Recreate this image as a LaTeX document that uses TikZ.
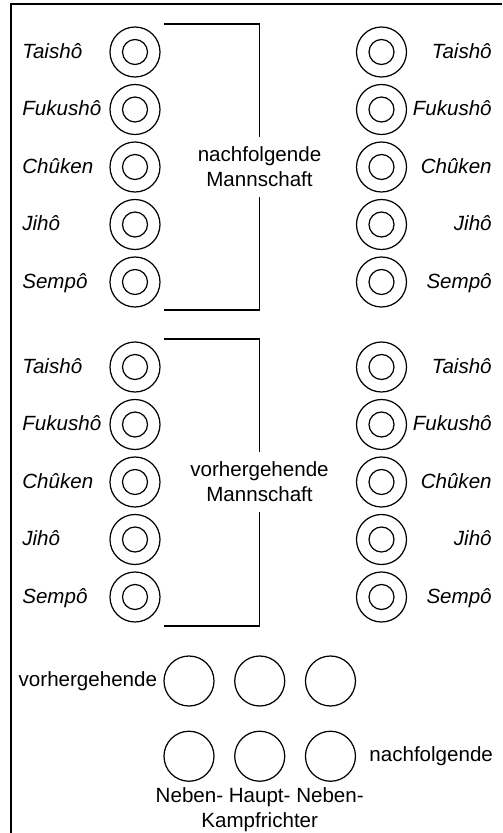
\documentclass[tikz,border=0pt]{standalone}
\usepackage{fontspec}
\setmainfont{Liberation Sans}
\usetikzlibrary{positioning}

\begin{document}
\begin{tikzpicture}[
    font=\fontsize{11.7}{14.2}\selectfont,
    kaempfer/.style={circle, draw, line width=0.7pt, minimum size=1cm, inner sep=0pt,
        path picture={\draw[line width=0.7pt] (path picture bounding box.center) circle (0.25cm);}},
    richter/.style={circle, draw, line width=0.7pt, minimum size=1cm, inner sep=0pt},
    rolle/.style={font=\fontsize{11.7}{14.2}\selectfont\itshape, text height=0.72em, text depth=0pt, inner sep=0pt},
    mannschaft/.style={align=center, inner xsep=2pt, inner ysep=0.2cm},
    klammer/.style={line width=1.1pt}
]
    \useasboundingbox (0,0) rectangle (10.04,-16.66);
    \draw[klammer] (10.04,-0.08) -- (0.22,-0.08) -- (0.22,-16.66); % Rahmen

    % Kaempfer beider Mannschaften
    \foreach \grp/\dy in {n/0,v/6.3}{
        \foreach \rang [count=\i] in {Taishô,Fukushô,Chûken,Jihô,Sempô}{
            \node[kaempfer] (\grp L\i) at (2.7,{-1.04-(\i-1)*1.15-\dy}) {};
            \node[kaempfer] (\grp R\i) at (7.63,{-1.04-(\i-1)*1.15-\dy}) {};
            \node[rolle, anchor=west] (\grp LT\i) at (0.44,{-1.04-(\i-1)*1.15-\dy}) {\rang};
            \node[rolle, anchor=east] (\grp RT\i) at (9.84,{-1.04-(\i-1)*1.15-\dy}) {\rang};
        }
    }

    % Klammern
    \node[mannschaft] (nachf) at (5.19,-3.34) {nachfolgende\\Mannschaft};
    \coordinate (nOben) at (3.28,-0.48);
    \coordinate (nUnten) at (3.28,-6.2);
    \draw[klammer] (nOben) -| (nachf.north);
    \draw[klammer] (nachf.south) |- (nUnten);

    \node[mannschaft] (vorh) at (5.19,-9.64) {vorhergehende\\Mannschaft};
    \coordinate (vOben) at (3.28,-6.78);
    \coordinate (vUnten) at (3.28,-12.52);
    \draw[klammer] (vOben) -| (vorh.north);
    \draw[klammer] (vorh.south) |- (vUnten);

    % Kampfrichter
    \node[richter] (vK1) at (3.78,-13.62) {};
    \node[richter, right=0.39cm of vK1] (vK2) {};
    \node[richter, right=0.39cm of vK2] (vK3) {};
    \node[richter, below=0.48cm of vK1] (nK1) {};
    \node[richter, right=0.39cm of nK1] (nK2) {};
    \node[richter, right=0.39cm of nK2] (nK3) {};

    \node[inner sep=0pt, left=0.12cm of vK1] (vorhT) {vorhergehende};
    \node[inner sep=0pt, right=0.26cm of nK3] (nachfT) {nachfolgende};
    \node[inner sep=0pt, align=center, below=0.1cm of nK2] (richterT) {Neben- Haupt- Neben-\\Kampfrichter};
\end{tikzpicture}
\end{document}
